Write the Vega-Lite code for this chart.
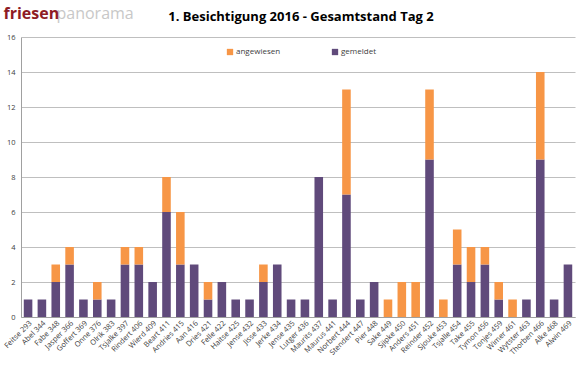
{
  "$schema": "https://vega.github.io/schema/vega-lite/v6.json",
  "width": 554,
  "height": 280,
  "autosize": {"type": "none"},
  "padding": {"left": 21, "top": 37, "right": 9, "bottom": 48},
  "background": "white",
  "title": {
    "text": "1. Besichtigung 2016 - Gesamtstand Tag 2",
    "font": "Open Sans",
    "fontSize": 13,
    "fontWeight": "bold",
    "color": "#000000",
    "anchor": "middle",
    "dx": 3,
    "offset": -19
  },
  "data": {
    "values": [
      {"name": "Feitse 293", "status": "gemeldet", "count": 1},
      {"name": "Abel 344", "status": "gemeldet", "count": 1},
      {"name": "Fabe 348", "status": "gemeldet", "count": 2},
      {"name": "Fabe 348", "status": "angewiesen", "count": 1},
      {"name": "Jasper 366", "status": "gemeldet", "count": 3},
      {"name": "Jasper 366", "status": "angewiesen", "count": 1},
      {"name": "Goffert 369", "status": "gemeldet", "count": 1},
      {"name": "Onne 376", "status": "gemeldet", "count": 1},
      {"name": "Onne 376", "status": "angewiesen", "count": 1},
      {"name": "Olrik 383", "status": "gemeldet", "count": 1},
      {"name": "Tsjalke 397", "status": "gemeldet", "count": 3},
      {"name": "Tsjalke 397", "status": "angewiesen", "count": 1},
      {"name": "Rindert 406", "status": "gemeldet", "count": 3},
      {"name": "Rindert 406", "status": "angewiesen", "count": 1},
      {"name": "Wierd 409", "status": "gemeldet", "count": 2},
      {"name": "Beart 411", "status": "gemeldet", "count": 6},
      {"name": "Beart 411", "status": "angewiesen", "count": 2},
      {"name": "Andries 415", "status": "gemeldet", "count": 3},
      {"name": "Andries 415", "status": "angewiesen", "count": 3},
      {"name": "Aan 416", "status": "gemeldet", "count": 3},
      {"name": "Dries 421", "status": "gemeldet", "count": 1},
      {"name": "Dries 421", "status": "angewiesen", "count": 1},
      {"name": "Felle 422", "status": "gemeldet", "count": 2},
      {"name": "Haitse 425", "status": "gemeldet", "count": 1},
      {"name": "Jense 432", "status": "gemeldet", "count": 1},
      {"name": "Jisse 433", "status": "gemeldet", "count": 2},
      {"name": "Jisse 433", "status": "angewiesen", "count": 1},
      {"name": "Jerke 434", "status": "gemeldet", "count": 3},
      {"name": "Jense 435", "status": "gemeldet", "count": 1},
      {"name": "Lutger 436", "status": "gemeldet", "count": 1},
      {"name": "Maurits 437", "status": "gemeldet", "count": 8},
      {"name": "Maurus 441", "status": "gemeldet", "count": 1},
      {"name": "Norbert 444", "status": "gemeldet", "count": 7},
      {"name": "Norbert 444", "status": "angewiesen", "count": 6},
      {"name": "Stendert 447", "status": "gemeldet", "count": 1},
      {"name": "Pier 448", "status": "gemeldet", "count": 2},
      {"name": "Sake 449", "status": "angewiesen", "count": 1},
      {"name": "Sjipke 450", "status": "angewiesen", "count": 2},
      {"name": "Anders 451", "status": "angewiesen", "count": 2},
      {"name": "Reinder 452", "status": "gemeldet", "count": 9},
      {"name": "Reinder 452", "status": "angewiesen", "count": 4},
      {"name": "Sjouke 453", "status": "angewiesen", "count": 1},
      {"name": "Tsjalle 454", "status": "gemeldet", "count": 3},
      {"name": "Tsjalle 454", "status": "angewiesen", "count": 2},
      {"name": "Take 455", "status": "gemeldet", "count": 2},
      {"name": "Take 455", "status": "angewiesen", "count": 2},
      {"name": "Tymon 456", "status": "gemeldet", "count": 3},
      {"name": "Tymon 456", "status": "angewiesen", "count": 1},
      {"name": "Tonjes 459", "status": "gemeldet", "count": 1},
      {"name": "Tonjes 459", "status": "angewiesen", "count": 1},
      {"name": "Wimer 461", "status": "angewiesen", "count": 1},
      {"name": "Wytster 463", "status": "gemeldet", "count": 1},
      {"name": "Thorben 466", "status": "gemeldet", "count": 9},
      {"name": "Thorben 466", "status": "angewiesen", "count": 5},
      {"name": "Alke 468", "status": "gemeldet", "count": 1},
      {"name": "Alwin 469", "status": "gemeldet", "count": 3}
    ]
  },
  "mark": {"type": "bar"},
  "encoding": {
    "x": {
      "field": "name",
      "type": "nominal",
      "sort": null,
      "scale": {"paddingInner": 0.38, "paddingOuter": 0.2},
      "axis": {
        "title": "panorama",
        "titleFont": "Open Sans",
        "titleFontSize": 16,
        "titleFontWeight": "normal",
        "titleColor": "#C8C8C8",
        "titleAnchor": "start",
        "titleAlign": "left",
        "titleBaseline": "alphabetic",
        "titleX": 35,
        "titleY": -299,
        "labelAngle": -45,
        "labelAlign": "right",
        "labelBaseline": "top",
        "labelFont": "Open Sans",
        "labelFontSize": 7.5,
        "labelColor": "#404040",
        "labelPadding": 2,
        "ticks": false,
        "domainColor": "#A0A0A0",
        "grid": false
      }
    },
    "y": {
      "aggregate": "sum",
      "field": "count",
      "type": "quantitative",
      "scale": {"domain": [0, 16]},
      "axis": {
        "title": "friesen",
        "titleFont": "Open Sans",
        "titleFontSize": 16,
        "titleFontWeight": "bold",
        "titleColor": "#8E1B24",
        "titleAngle": 0,
        "titleAlign": "left",
        "titleBaseline": "alphabetic",
        "titleX": -18,
        "titleY": -19,
        "values": [0, 2, 4, 6, 8, 10, 12, 14, 16],
        "labelFont": "Open Sans",
        "labelFontSize": 7.5,
        "labelColor": "#404040",
        "labelPadding": 6,
        "ticks": false,
        "domainColor": "#A0A0A0",
        "gridColor": "#BFBFBF",
        "gridWidth": 1
      }
    },
    "color": {
      "field": "status",
      "type": "nominal",
      "scale": {"domain": ["angewiesen", "gemeldet"], "range": ["#F79646", "#604A7B"]},
      "legend": {
        "title": null,
        "orient": "none",
        "direction": "horizontal",
        "legendX": 205,
        "legendY": 11,
        "symbolType": "square",
        "symbolSize": 40,
        "symbolOpacity": 1,
        "labelFont": "Open Sans",
        "labelFontSize": 8,
        "labelColor": "#404040",
        "columnPadding": 50,
        "labelOffset": 2
      }
    }
  },
  "config": {
    "view": {"stroke": null}
  }
}
